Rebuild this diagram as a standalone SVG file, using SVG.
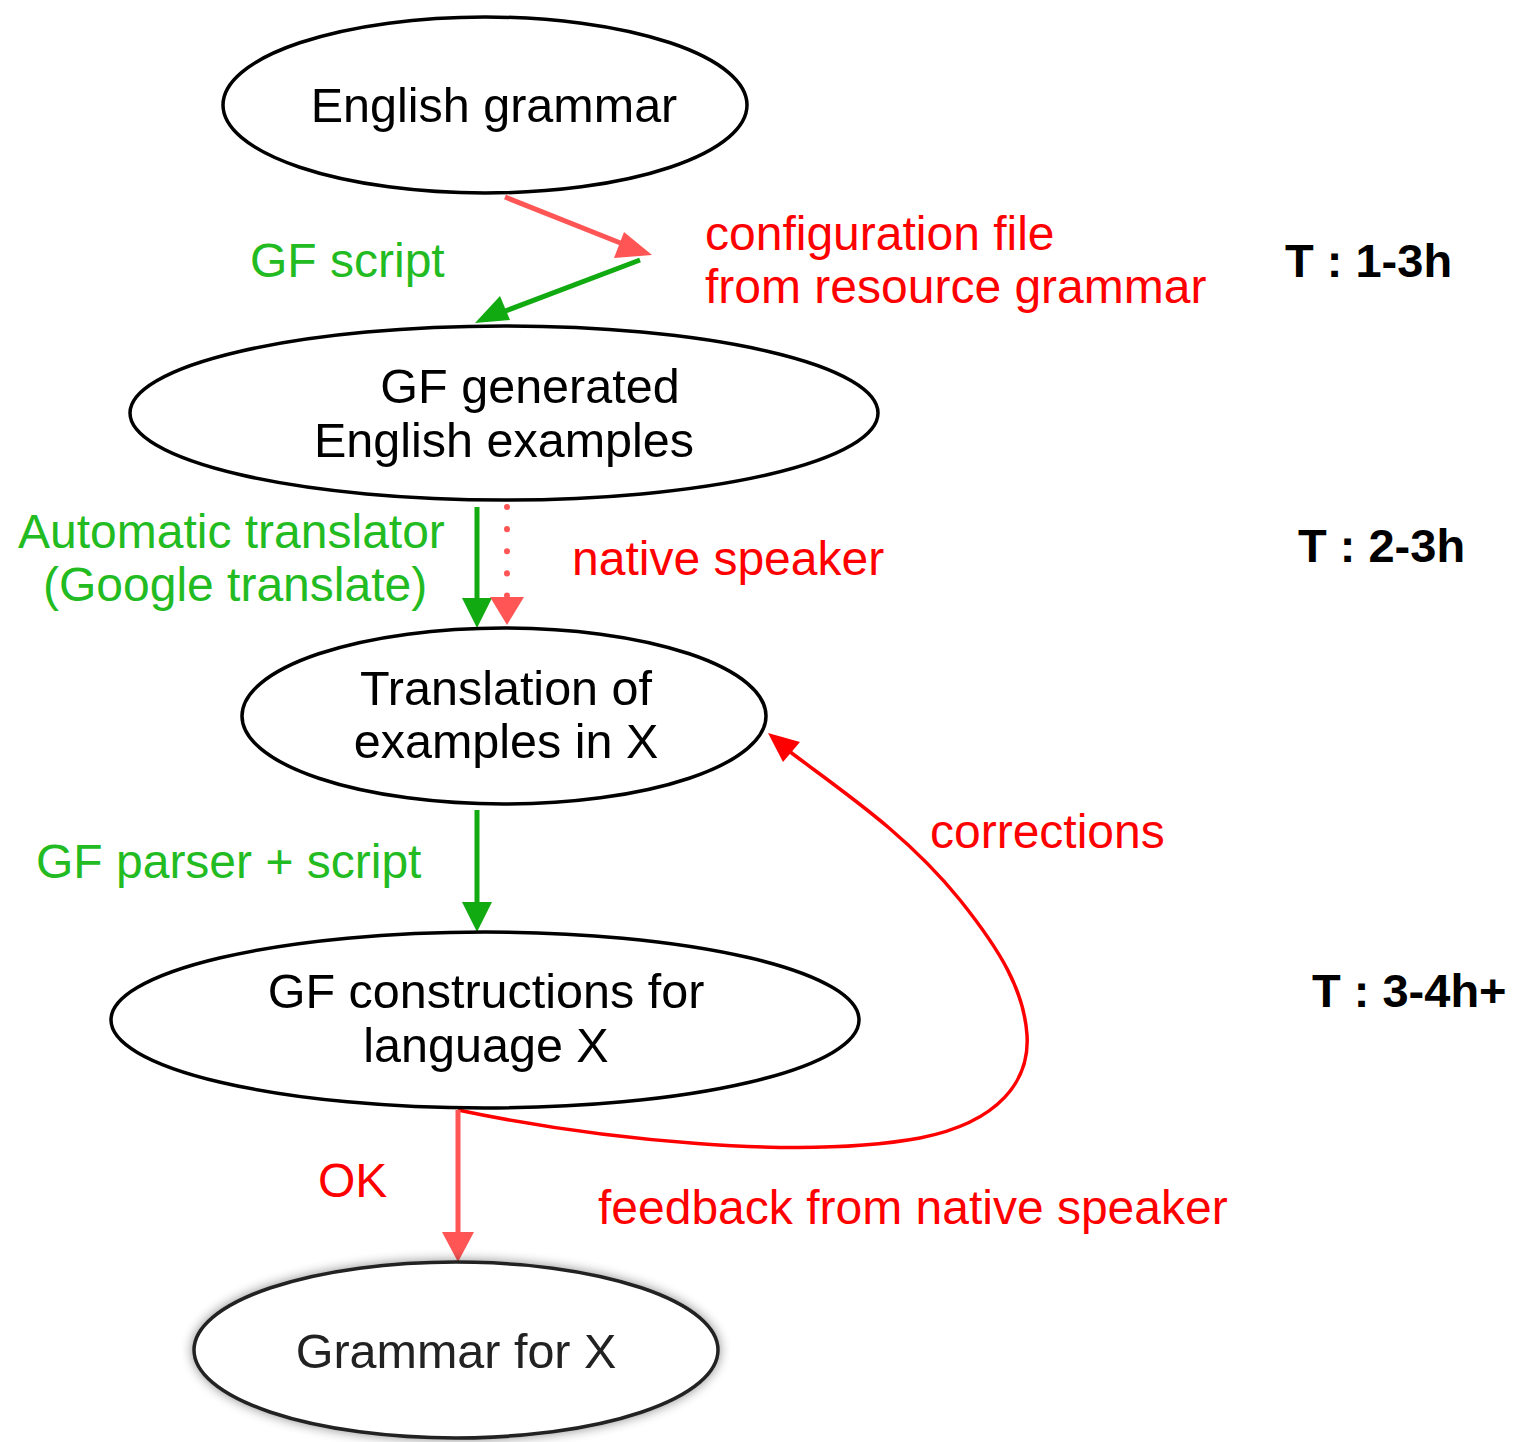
<svg xmlns="http://www.w3.org/2000/svg" width="1515" height="1442" viewBox="0 0 1515 1442">
<defs>
<style>
.node{fill:#fff;stroke:#000;stroke-width:3.5}
.nt{font-family:"Liberation Sans",Arial,sans-serif;font-size:48.5px;fill:#000;text-anchor:middle}
.g{font-family:"Liberation Sans",Arial,sans-serif;font-size:48px;fill:#22bb22}
.r{font-family:"Liberation Sans",Arial,sans-serif;font-size:48px;fill:#ff0000}
.t{font-family:"Liberation Sans",Arial,sans-serif;font-size:47px;font-weight:bold;fill:#000}
.eg{stroke:#11aa11;stroke-width:5;fill:none}
.er{stroke:#ff5555;stroke-width:5;fill:none}
.ec{stroke:#ff0000;stroke-width:3.5;fill:none}
</style>
<filter id="glow" x="-20%" y="-30%" width="140%" height="160%">
<feGaussianBlur in="SourceAlpha" stdDeviation="6"/>
<feComponentTransfer><feFuncA type="linear" slope="0.45"/></feComponentTransfer>
<feMerge><feMergeNode/><feMergeNode in="SourceGraphic"/></feMerge>
</filter>
</defs>
<rect width="1515" height="1442" fill="#fff"/>

<g id="connectors">
<line class="er" x1="505" y1="197" x2="628" y2="246"/>
<polygon points="652,255 614,258 624,232" fill="#ff5555"/>
<line class="eg" x1="640" y1="260" x2="500" y2="313"/>
<polygon points="475,323 500,296 510,320" fill="#11aa11"/>
<line class="eg" x1="477" y1="507" x2="477" y2="600"/>
<polygon points="477,628 462,598 492,598" fill="#11aa11"/>
<line x1="507" y1="507" x2="507" y2="596" stroke="#ff5555" stroke-width="6" stroke-linecap="round" stroke-dasharray="0.1 22"/>
<polygon points="507,625 490,597 524,597" fill="#ff5555"/>
<line class="eg" x1="477" y1="810" x2="477" y2="905"/>
<polygon points="477,932 462,902 492,902" fill="#11aa11"/>
<path class="ec" d="M458,1110 C600,1140 800,1160 920,1138 C1000,1122 1030,1080 1027,1035 C1024,990 1000,950 960,900 C905,832 840,790 785,748"/>
<polygon points="768,733 800,742 783,762" fill="#ff0000"/>
<line class="er" x1="458" y1="1110" x2="458" y2="1235"/>
<polygon points="458,1262 442,1232 474,1232" fill="#ff5555"/>
</g>

<g id="n1">
<ellipse class="node" cx="485" cy="105" rx="262" ry="88"/>
<text class="nt" x="494" y="122">English grammar</text>
</g>
<g id="n2">
<ellipse class="node" cx="504" cy="413" rx="374" ry="87"/>
<text class="nt" x="530" y="403">GF generated</text>
<text class="nt" x="504" y="457">English examples</text>
</g>
<g id="n3">
<ellipse class="node" cx="504" cy="716" rx="262" ry="88"/>
<text class="nt" x="506" y="705">Translation of</text>
<text class="nt" x="506" y="758">examples in X</text>
</g>
<g id="n4">
<ellipse class="node" cx="485" cy="1020" rx="374" ry="88"/>
<text class="nt" x="486" y="1008">GF constructions for</text>
<text class="nt" x="486" y="1062">language X</text>
</g>
<g id="n5">
<ellipse cx="456" cy="1350" rx="262" ry="88" fill="#fff" stroke="#222" stroke-width="3.5" filter="url(#glow)"/>
<text class="nt" x="456" y="1368" style="fill:#222">Grammar for X</text>
</g>

<g id="labels">
<text class="g" x="250" y="277">GF script</text>
<text class="r" x="705" y="250">configuration file</text>
<text class="r" x="705" y="303">from resource grammar</text>
<text class="t" x="1285" y="277">T : 1-3h</text>
<text class="g" x="18" y="548">Automatic translator</text>
<text class="g" x="43" y="601">(Google translate)</text>
<text class="r" x="572" y="575">native speaker</text>
<text class="t" x="1298" y="562">T : 2-3h</text>
<text class="g" x="36" y="878">GF parser + script</text>
<text class="r" x="930" y="848">corrections</text>
<text class="t" x="1312" y="1007">T : 3-4h+</text>
<text class="r" x="318" y="1197">OK</text>
<text class="r" x="598" y="1224">feedback from native speaker</text>
</g>
</svg>
